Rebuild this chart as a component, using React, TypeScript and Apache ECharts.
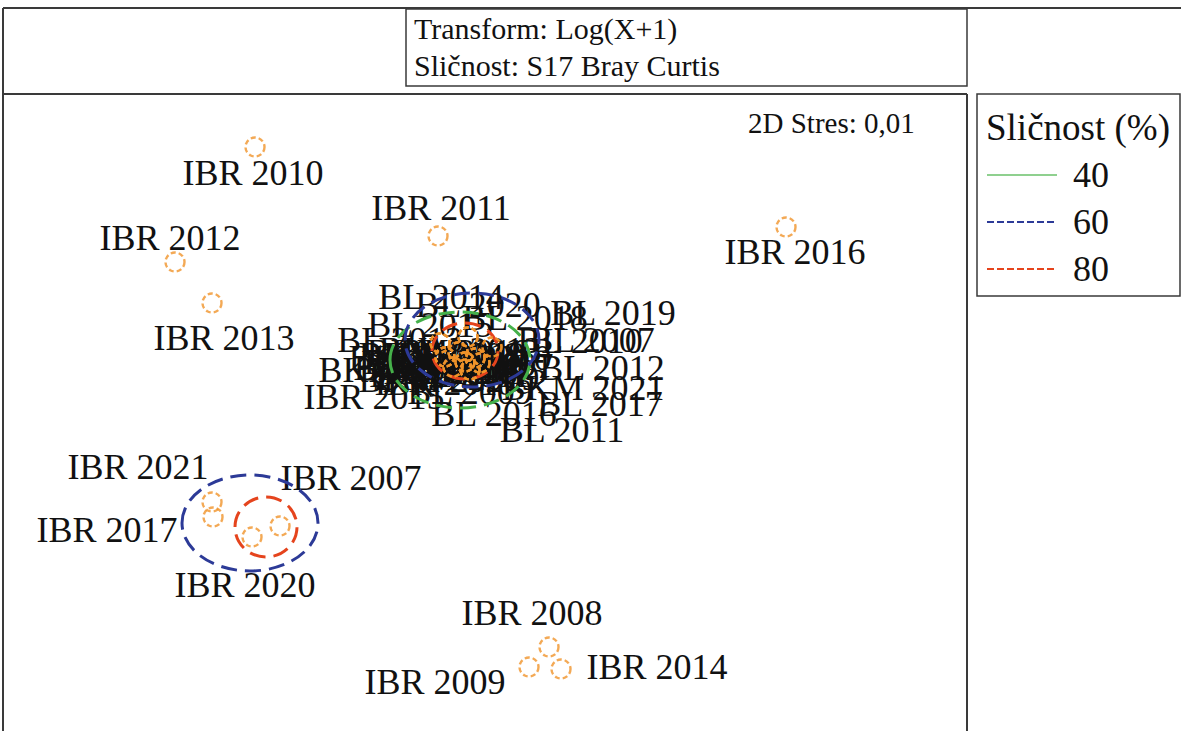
import React, { useEffect, useRef } from "react";
import * as echarts from "echarts";

// NMDS sample names and coordinates (arbitrary NMDS units)
const pointNames = [
  "IBR 2010", "IBR 2011", "IBR 2012", "IBR 2013", "IBR 2016", "IBR 2021", "IBR 2017", "IBR 2020",
  "IBR 2007", "IBR 2008", "IBR 2009", "IBR 2014",
  "BL 2014", "BL 2020", "BL 2018", "BL 2019", "BL 2007", "BL 2010", "BL 2015", "BL 2013",
  "BL 2012", "BKM 2021", "BL 2017", "BL 2016", "BL 2011", "IBR 2015", "BL 2009", "BL 2008",
  "BL 2021", "BKM 2007", "BKM 2008", "BKM 2009", "BKM 2010", "BKM 2011", "BKM 2012", "BKM 2013",
  "BKM 2014", "BKM 2015", "BKM 2016", "BKM 2017", "BKM 2018", "BKM 2019", "BKM 2020", "IBR 2018",
  "IBR 2019",
];
const pointX = [
  -2.30, -0.47, -3.10, -2.73, 3.01, -2.73, -2.72, -2.33,
  -2.05, 0.64, 0.44, 0.76,
  -0.27, -0.17, 0.07, 0.07, -0.10, -0.10, -0.45, -0.45,
  -0.05, -0.05, -0.15, -0.32, -0.15, -0.40, -0.20, -0.32,
  -0.20, -0.40, -0.27, -0.15, -0.20, -0.32, -0.05, -0.10,
  -0.40, -0.15, -0.17, -0.10, -0.45, -0.27, -0.17, -0.40,
  -0.20,
];
const pointY = [
  2.53, 1.64, 1.38, 0.97, 1.73, -1.02, -1.17, -1.37,
  -1.26, -2.47, -2.67, -2.69,
  0.48, 0.63, 0.53, 0.53, 0.42, 0.42, 0.57, 0.57,
  0.37, 0.37, 0.30, 0.33, 0.30, 0.43, 0.38, 0.33,
  0.38, 0.43, 0.48, 0.30, 0.38, 0.33, 0.37, 0.42,
  0.43, 0.30, 0.63, 0.42, 0.57, 0.48, 0.63, 0.43,
  0.38,
];
// label anchor positions (NMDS units)
const labelX = [
  -2.32, -0.44, -3.15, -2.61, 3.10, -3.47, -3.78, -2.40,
  -1.34, 0.47, -0.50, 1.72,
  -0.44, -0.07, 0.40, 1.28, 1.07, 0.95, -0.55, -0.85,
  1.17, 0.98, 1.15, 0.09, 0.77, -1.11, -0.15, -0.30,
  -0.23, -0.85, -0.45, -0.30, -0.15, -0.35, -0.40, -0.25,
  -0.50, -0.20, -0.37, -0.13, -0.55, -0.27, -0.45, -0.40,
  -0.30,
];
const labelY = [
  2.27, 1.92, 1.62, 0.62, 1.48, -0.67, -1.30, -1.85,
  -0.78, -2.13, -2.82, -2.67,
  1.03, 0.95, 0.82, 0.87, 0.60, 0.59, 0.75, 0.60,
  0.32, 0.12, -0.04, -0.14, -0.30, 0.03, 0.08, 0.28,
  0.48, 0.30, 0.45, 0.35, 0.42, 0.25, 0.38, 0.50,
  0.32, 0.28, 0.48, 0.34, 0.42, 0.22, 0.20, 0.17,
  0.45,
];

// similarity contours (%)
const ellipseLevel = [40, 60, 80, 60, 80];
const ellipseX = [-0.25, -0.13, -0.20, -2.35, -2.19];
const ellipseY = [0.40, 0.60, 0.49, -1.23, -1.27];
const ellipseRX = [0.70, 0.67, 0.33, 0.68, 0.31];
const ellipseRY = [0.48, 0.47, 0.28, 0.48, 0.30];

const legendLevels = ["40", "60", "80"];

const headerLines = ["Transform: Log(X+1)", "Sličnost: S17 Bray Curtis"];
const stressText = "2D Stres: 0,01";
const legendTitle = "Sličnost (%)";

const SERIF = "'Liberation Serif', 'Times New Roman', serif";
const levelColor: Record<number, string> = { 40: "#45b04a", 60: "#2c3a97", 80: "#e5441d" };
const ORANGE = "#f0932a";

export default function App() {
  const ref = useRef<HTMLDivElement>(null);
  useEffect(() => {
    document.body.style.margin = "0";
    if (!ref.current) return;
    const chart = echarts.init(ref.current, null, { renderer: "svg" });

    const points = pointNames.map((n, i) => [pointX[i], pointY[i], n]);
    const labels = pointNames.map((n, i) => [labelX[i], labelY[i], n]);
    const ellipses = ellipseLevel.map((l, i) => [ellipseX[i], ellipseY[i], ellipseRX[i], ellipseRY[i], l]);

    const stroke = "#3a3a3a";
    const graphic: any[] = [
      { type: "line", shape: { x1: 3, y1: 8, x2: 1181, y2: 8 }, style: { stroke, lineWidth: 2 } },
      { type: "line", shape: { x1: 3, y1: 8, x2: 3, y2: 731 }, style: { stroke, lineWidth: 2 } },
      { type: "rect", shape: { x: 406, y: 9, width: 561, height: 77 }, style: { fill: "none", stroke, lineWidth: 1.5 } },
      { type: "line", shape: { x1: 3, y1: 94, x2: 967, y2: 94 }, style: { stroke, lineWidth: 2 } },
      { type: "line", shape: { x1: 967, y1: 94, x2: 967, y2: 731 }, style: { stroke, lineWidth: 2 } },
      { type: "rect", shape: { x: 977, y: 94, width: 203, height: 202 }, style: { fill: "none", stroke, lineWidth: 1.5 } },
      {
        type: "text", x: 414, y: 28,
        style: { text: headerLines[0], fontFamily: SERIF, fontSize: 30, fill: "#111", textVerticalAlign: "middle", verticalAlign: "middle" },
      },
      {
        type: "text", x: 414, y: 65,
        style: { text: headerLines[1], fontFamily: SERIF, fontSize: 30, fill: "#111", textVerticalAlign: "middle", verticalAlign: "middle" },
      },
      {
        type: "text", x: 748, y: 123,
        style: { text: stressText, fontFamily: SERIF, fontSize: 29, fill: "#111", textVerticalAlign: "middle", verticalAlign: "middle" },
      },
      {
        type: "text", x: 986, y: 127,
        style: { text: legendTitle, fontFamily: SERIF, fontSize: 37, fill: "#111", textVerticalAlign: "middle", verticalAlign: "middle" },
      },
    ];
    legendLevels.forEach((lv, i) => {
      const y = 175 + i * 47;
      const c = levelColor[Number(lv)];
      graphic.push({
        type: "line",
        shape: { x1: 987, y1: y, x2: 1057, y2: y },
        style: { stroke: i === 0 ? "#8fd08f" : c, lineWidth: 2, lineDash: i === 0 ? null : [7, 3] },
      });
      graphic.push({
        type: "text", x: 1073, y,
        style: { text: lv, fontFamily: SERIF, fontSize: 36, fill: "#111", textVerticalAlign: "middle", verticalAlign: "middle" },
      });
    });

    chart.setOption({
      animation: false,
      backgroundColor: "#ffffff",
      grid: { left: 3, top: 94, width: 964, height: 637 },
      xAxis: { type: "value", min: -4.82, max: 4.82, show: false },
      yAxis: { type: "value", min: -3.31, max: 3.06, show: false },
      graphic,
      series: [
        {
          type: "custom",
          name: "labels",
          z: 2,
          data: labels,
          renderItem: (params: any, api: any) => {
            const p = api.coord([api.value(0), api.value(1)]);
            return {
              type: "text",
              x: p[0],
              y: p[1],
              style: {
                text: labels[params.dataIndex][2],
                fontFamily: SERIF,
                fontSize: 36,
                fill: "#111",
                textAlign: "center",
                align: "center",
                textVerticalAlign: "middle",
                verticalAlign: "middle",
              },
            };
          },
        },
        {
          type: "scatter",
          name: "samples",
          z: 4,
          symbol: "circle",
          symbolSize: 19,
          data: points,
          itemStyle: { color: "rgba(0,0,0,0)", borderColor: ORANGE, borderWidth: 2.4, borderType: [5, 3] },
          label: { show: false },
        },
        {
          type: "custom",
          name: "contours",
          z: 3,
          data: ellipses,
          renderItem: (params: any, api: any) => {
            const c = api.coord([api.value(0), api.value(1)]);
            const s = api.size([api.value(2), api.value(3)]);
            const lv = api.value(4);
            return {
              type: "ellipse",
              shape: { cx: c[0], cy: c[1], rx: s[0], ry: s[1] },
              style: { fill: "none", stroke: levelColor[lv], lineWidth: 3, lineDash: [16, 8] },
            };
          },
        },
      ],
    });
    return () => chart.dispose();
  }, []);
  return <div ref={ref} style={{ position: "fixed", left: 0, top: 0, width: 1181, height: 731 }} />;
}
